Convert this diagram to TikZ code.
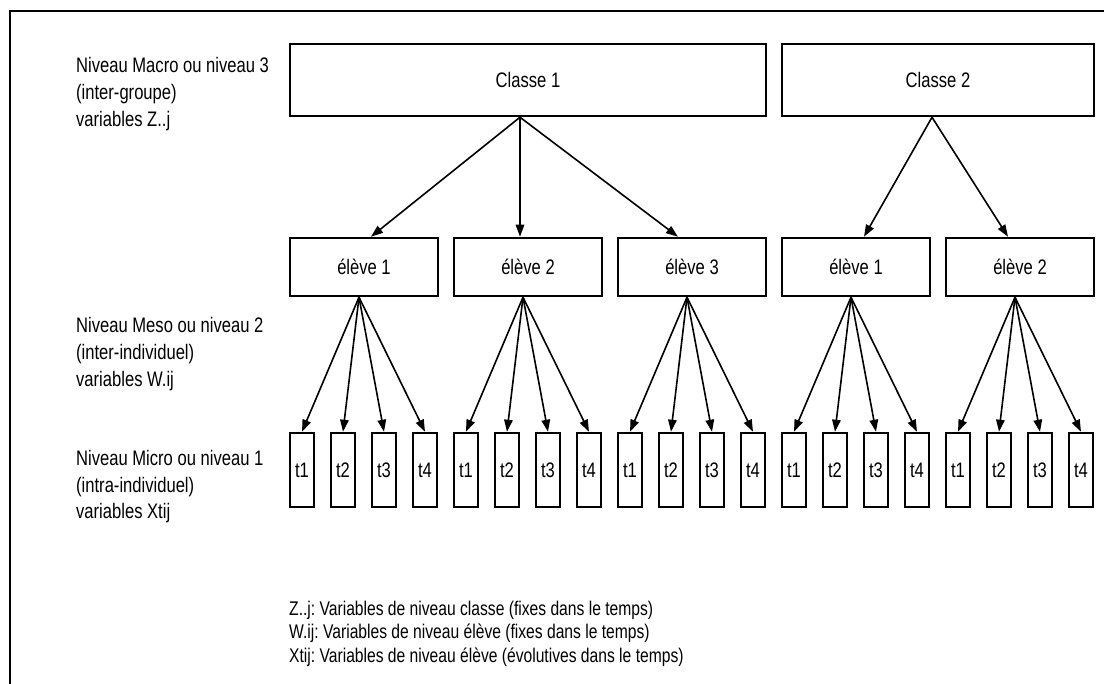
\documentclass[tikz,border=0pt]{standalone}
\usepackage{fontspec}
\setmainfont[FakeStretch=0.79]{Liberation Sans}
\usepackage{tikz}
\usetikzlibrary{arrows.meta}
\frenchspacing

\begin{document}
\begin{tikzpicture}[x=1pt,y=-1pt,
    every node/.style={font=\fontsize{21}{27}\selectfont},
    box/.style={draw, line width=2.5pt, inner sep=0pt},
    tbox/.style={box, minimum width=24pt, minimum height=74pt},
    elevebox/.style={box, minimum width=148pt, minimum height=58pt},
    classebox/.style={box, minimum height=72pt},
    lbl/.style={anchor=base west, align=left, inner sep=0pt},
    arr/.style={-{Triangle[length=12pt,width=8.5pt]}, line width=1.6pt}]
\useasboundingbox (0,0) rectangle (1104,684);
% cadre
\draw[line width=2.4pt] (1110,11) -- (10,11) -- (10,690);
% niveau 3
\node[classebox, minimum width=476pt] (c1) at (528,80) {Classe 1};
\node[classebox, minimum width=312pt] (c2) at (938,80) {Classe 2};
% niveau 2
\foreach \j/\n in {0/1,1/2,2/3,3/1,4/2}
    \node[elevebox] (e\j) at ({364+164*\j},267) {élève \n};
\draw[arr] ([xshift=-8pt]c1.south) -- ([xshift=7pt]e0.north);
\draw[arr] ([xshift=-8pt]c1.south) -- ([xshift=-8pt]e1.north);
\draw[arr] ([xshift=-8pt]c1.south) -- ([xshift=-14pt]e2.north);
\draw[arr] ([xshift=-6pt]c2.south) -- ([xshift=8pt]e3.north);
\draw[arr] ([xshift=-6pt]c2.south) -- ([xshift=-12pt]e4.north);
% niveau 1
\foreach \j in {0,...,4}
    \foreach \k in {1,...,4} {
        \node[tbox] (t\j\k) at ({302+164*\j+41*(\k-1)},470) {t\k};
        \draw[arr] ([xshift=-5pt]e\j.south) -- (t\j\k.north);
    }
% niveaux (ancre sur la derniere ligne)
\node[lbl] (macro) at (76,127) {Niveau Macro ou niveau 3\\(inter-groupe)\\variables Z..j};
\node[lbl] (meso) at (76,387) {Niveau Meso ou niveau 2\\(inter-individuel)\\variables W.ij};
\node[lbl] (micro) at (76,519) {Niveau Micro ou niveau 1\\(intra-individuel)\\variables Xtij};
% legende
\node[lbl, font=\fontsize{19.8}{23.5}\selectfont] (legende) at (289,662)
    {Z..j: Variables de niveau classe (fixes dans le temps)\\
     W.ij: Variables de niveau élève (fixes dans le temps)\\
     Xtij: Variables de niveau élève (évolutives dans le temps)};
\end{tikzpicture}
\end{document}
